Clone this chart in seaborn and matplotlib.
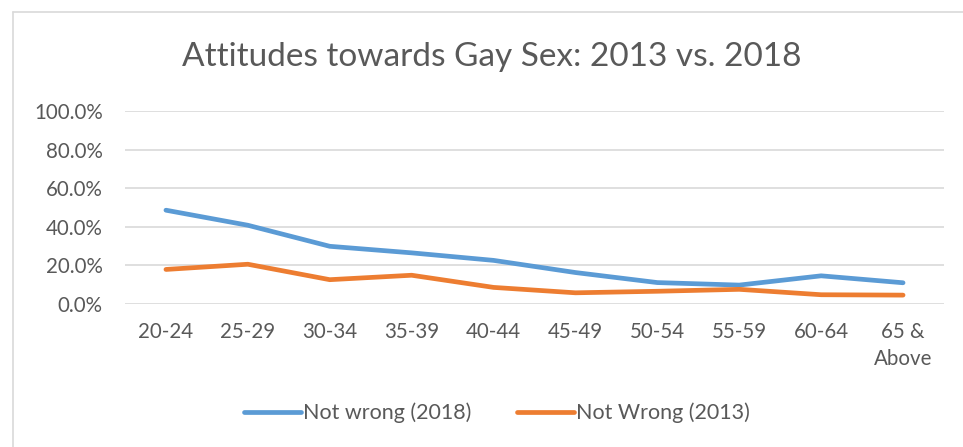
import matplotlib
matplotlib.use("Agg")
import matplotlib.pyplot as plt
from matplotlib.lines import Line2D
import seaborn as sns
import pandas as pd

categories = ["20-24", "25-29", "30-34", "35-39", "40-44", "45-49",
              "50-54", "55-59", "60-64", "65 &\nAbove"]
not_wrong_2018 = [48.6, 40.8, 29.9, 26.5, 22.6, 16.3, 11.1, 9.8, 14.6, 11.0]
not_wrong_2013 = [17.9, 20.6, 12.6, 14.9, 8.6, 5.8, 6.6, 7.6, 4.8, 4.6]
series_names = ["Not wrong (2018)", "Not Wrong (2013)"]
colors = ["#5B9BD5", "#ED7D31"]
yticks = [0, 20, 40, 60, 80, 100]

sns.set_theme(style="white")
plt.rcParams['font.family'] = ['Lato', 'DejaVu Sans']

df = pd.DataFrame({
    "x": list(range(len(categories))) * 2,
    "value": not_wrong_2018 + not_wrong_2013,
    "series": [series_names[0]] * len(categories) + [series_names[1]] * len(categories),
})

fig = plt.figure(figsize=(9.63, 4.47), dpi=100)
ax = fig.add_axes([125 / 963, 1 - 304 / 447, 819 / 963, 193 / 447])

sns.lineplot(data=df, x="x", y="value", hue="series", palette=colors,
             linewidth=3.4, ax=ax, legend=False, solid_capstyle="round", zorder=3)

ax.set_xlim(-0.5, len(categories) - 0.5)
ax.set_ylim(0, 100)
ax.set_yticks(yticks)
ax.set_yticklabels([f"{v:.1f}%" for v in yticks])
ax.set_xticks(range(len(categories)))
ax.set_xticklabels(categories, linespacing=1.45)
ax.grid(axis="y", color="#D9D9D9", linewidth=1.2, zorder=0)
ax.grid(axis="x", visible=False)
for s in ax.spines.values():
    s.set_visible(False)
ax.set_xlabel("")
ax.set_ylabel("")
ax.tick_params(axis="both", length=0, labelsize=14.8, colors="#595959")
ax.tick_params(axis="x", pad=13)
ax.tick_params(axis="y", pad=16)
for ln in ax.get_lines():
    ln.set_clip_on(False)

fig.text(492 / 963, 1 - 57 / 447, "Attitudes towards Gay Sex: 2013 vs. 2018",
         ha="center", va="center", fontsize=24, color="#595959")

handles = [Line2D([0], [0], color=c, linewidth=3.4, solid_capstyle="round") for c in colors]
fig.legend(handles, series_names, loc="center", bbox_to_anchor=(497 / 963, 1 - 413 / 447),
           ncol=2, frameon=False, fontsize=15.5, labelcolor="#595959",
           handlelength=2.65, handletextpad=0.12, columnspacing=2.1)

fig.add_artist(Line2D([13 / 963, 13 / 963], [0, 1 - 12 / 447], transform=fig.transFigure,
                      color="#D9D9D9", linewidth=1.2))
fig.add_artist(Line2D([13 / 963, 1], [1 - 12 / 447, 1 - 12 / 447], transform=fig.transFigure,
                      color="#D9D9D9", linewidth=1.2))

fig.savefig("out.png", dpi=100)
